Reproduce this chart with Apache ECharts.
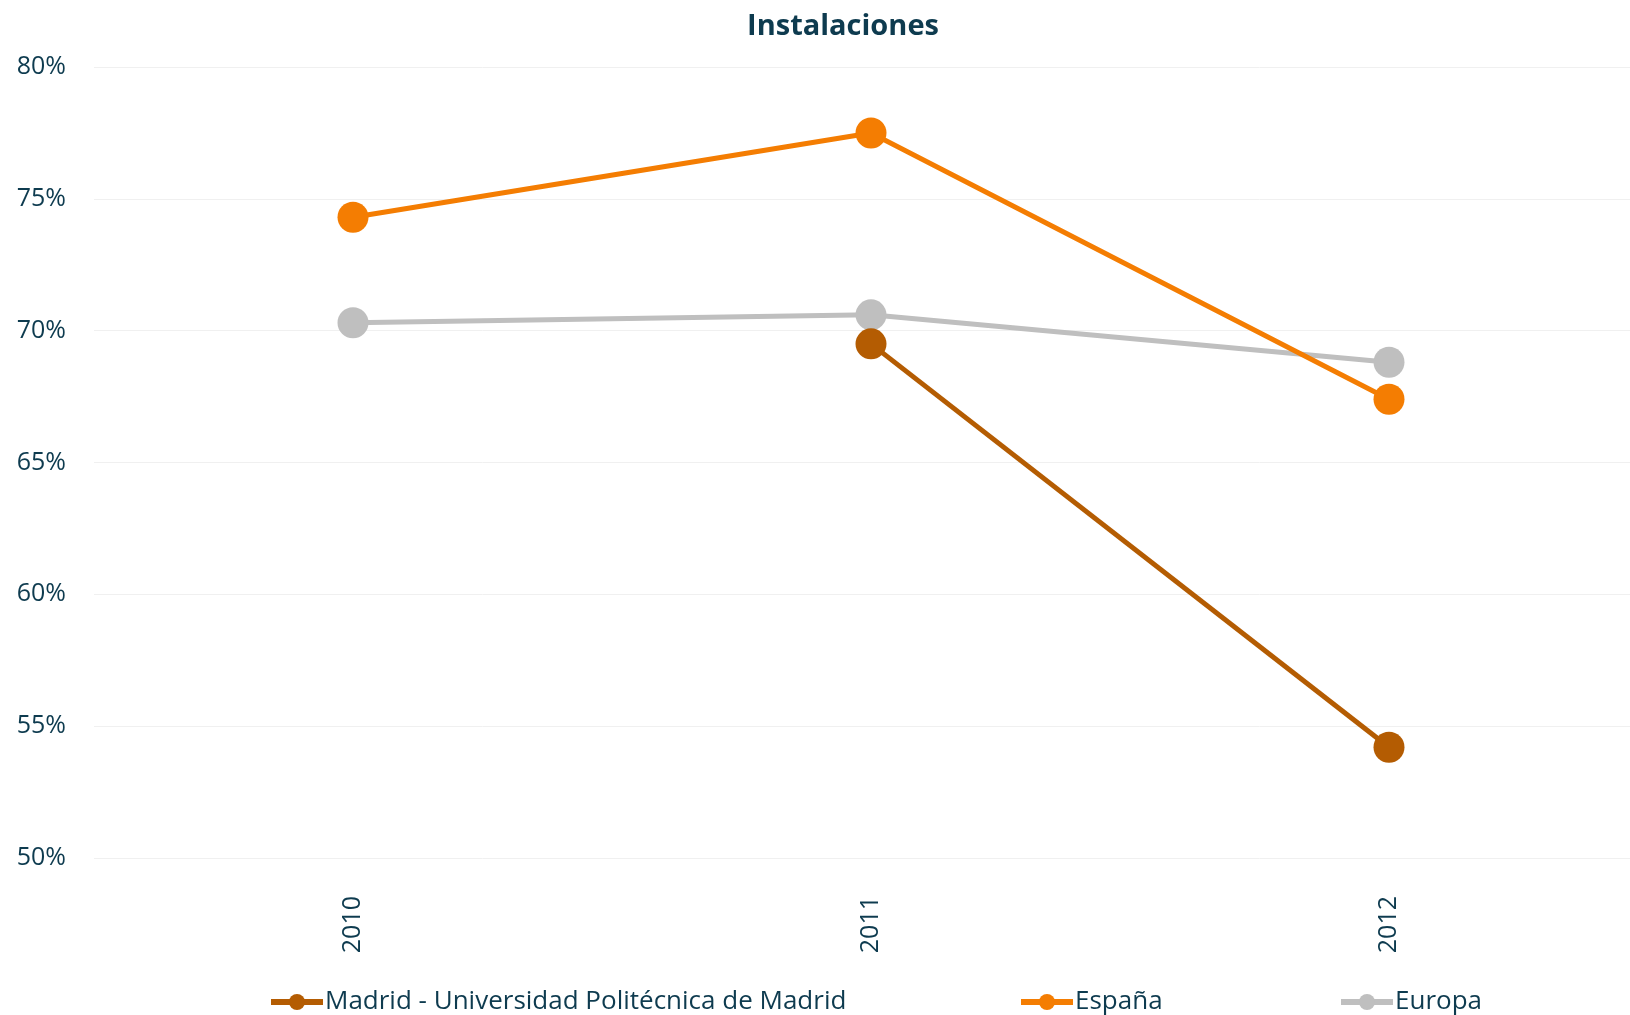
<!DOCTYPE html>
<html>
<head>
<meta charset="utf-8">
<script src="https://cdn.jsdelivr.net/npm/echarts@6/dist/echarts.min.js"></script>
<style>
html,body{margin:0;padding:0;background:#fff;overflow:hidden;}
#chart{width:1660px;height:1015px;}
</style>
</head>
<body>
<div id="chart"></div>
<script>
const categories = ['2010', '2011', '2012'];
const madrid = ['-', 69.5, 54.2];
const espana = [74.3, 77.5, 67.4];
const europa = [70.3, 70.6, 68.8];
const seriesNames = ['Madrid - Universidad Politécnica de Madrid', 'España', 'Europa'];
const yTicks = [50, 55, 60, 65, 70, 75, 80];

const textColor = '#0E3B4F';
const fontFamily = '"Open Sans", "Noto Sans", sans-serif';
const colors = ['#B45C02', '#F47D02', '#BFBFBF'];

const chart = echarts.init(document.getElementById('chart'));
const legendBase = {
  top: 989,
  padding: 0,
  itemWidth: 52,
  itemHeight: 20,
  itemGap: 0,
  lineStyle: {width: 6},
  textStyle: {color: textColor, fontSize: 26, fontFamily: fontFamily, padding: [0, 0, 0, -3]}
};
chart.setOption({
  animation: false,
  backgroundColor: '#ffffff',
  title: {
    text: 'Instalaciones',
    left: 838,
    top: 7,
    textAlign: 'center',
    textStyle: {color: textColor, fontSize: 29, fontWeight: 'bold', fontFamily: fontFamily}
  },
  legend: [
    Object.assign({}, legendBase, {left: 268, data: [seriesNames[0]]}),
    Object.assign({}, legendBase, {left: 1018, data: [seriesNames[1]]}),
    Object.assign({}, legendBase, {left: 1338, data: [seriesNames[2]]})
  ],
  grid: {left: 94, right: 12, top: 67, bottom: 157, containLabel: false},
  xAxis: {
    type: 'category',
    data: categories,
    boundaryGap: true,
    axisLine: {show: false},
    axisTick: {show: false},
    axisLabel: {rotate: 90, margin: 38, color: textColor, fontSize: 25, fontFamily: fontFamily}
  },
  yAxis: {
    type: 'value',
    min: yTicks[0],
    max: yTicks[yTicks.length - 1],
    interval: 5,
    axisLine: {show: false},
    axisTick: {show: false},
    splitLine: {lineStyle: {color: '#F0F0F0', width: 1}},
    axisLabel: {formatter: '{value}%', margin: 28, color: textColor, fontSize: 25, fontFamily: fontFamily}
  },
  series: [
    {name: seriesNames[0], type: 'line', data: madrid, color: colors[0], symbol: 'circle', symbolSize: 31,
     lineStyle: {width: 5, color: colors[0]}, itemStyle: {color: colors[0]}, connectNulls: false, z: 2},
    {name: seriesNames[1], type: 'line', data: espana, color: colors[1], symbol: 'circle', symbolSize: 31,
     lineStyle: {width: 5, color: colors[1]}, itemStyle: {color: colors[1]}, z: 3},
    {name: seriesNames[2], type: 'line', data: europa, color: colors[2], symbol: 'circle', symbolSize: 31,
     lineStyle: {width: 5, color: colors[2]}, itemStyle: {color: colors[2]}, z: 1}
  ]
});
</script>
</body>
</html>
